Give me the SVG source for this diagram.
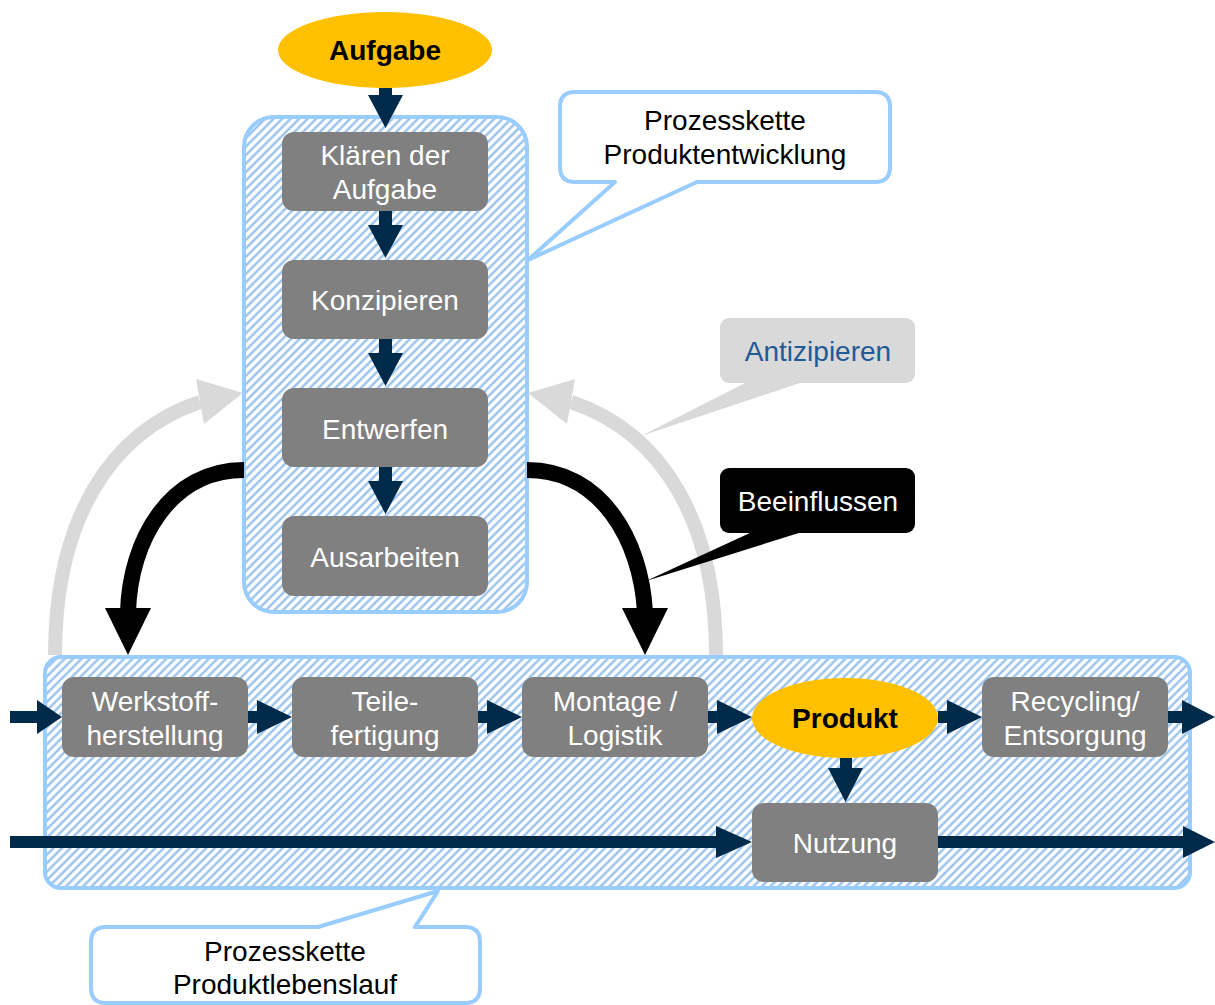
<svg xmlns="http://www.w3.org/2000/svg" width="1215" height="1005" viewBox="0 0 1215 1005">
  <style>
    text { font-family: "Liberation Sans", Arial, sans-serif; font-size: 28px; text-anchor: middle; }
    .step { fill: #808080; }
    .step-label { fill: #ffffff; }
    .goal { fill: #FFC000; }
    .goal-label { fill: #000000; font-weight: bold; font-size: 28px; }
    .chain { fill: url(#hatch); stroke: #99CCFF; stroke-width: 4; }
    .bubble { fill: #ffffff; stroke: #99CCFF; stroke-width: 4; stroke-linejoin: round; }
    .flow { fill: #002A4A; }
    .anticipate { fill: none; stroke: #D9D9D9; stroke-width: 14; }
    .influence { fill: none; stroke: #000000; stroke-width: 16; }
  </style>
  <defs>
    <pattern id="hatch" patternUnits="userSpaceOnUse" width="6" height="6" patternTransform="rotate(45)">
      <rect width="6" height="6" fill="#ffffff"/>
      <line x1="1.5" y1="0" x2="1.5" y2="6" stroke="#8FBDEA" stroke-width="2.2"/>
    </pattern>
  </defs>

  <!-- process chain containers -->
  <g id="chain-development">
    <rect class="chain" x="244" y="117" width="283" height="495" rx="30"/>
  </g>
  <g id="chain-lifecycle">
    <rect class="chain" x="45" y="657" width="1145" height="231" rx="16"/>
  </g>

  <!-- connectors -->
  <g id="connectors">
    <!-- anticipation arcs -->
    <path class="anticipate" d="M 55 655 C 55 520 110 432 200 402"/>
    <polygon fill="#D9D9D9" points="243,393 196,379 204,424"/>
    <path class="anticipate" d="M 716 655 C 716 520 661 432 571 402"/>
    <polygon fill="#D9D9D9" points="528,393 575,379 567,424"/>

    <!-- influence arcs -->
    <path class="influence" d="M 244 470 C 170 470 130 540 128 612"/>
    <polygon fill="#000000" points="128,655 105,608 151,608"/>
    <path class="influence" d="M 527 470 C 601 470 641 540 645 612"/>
    <polygon fill="#000000" points="645,655 622,608 668,608"/>

    <!-- development flow (downward) -->
    <polygon class="flow" points="379,88 392,88 392,95 403,95 385.5,128 368,95 379,95"/>
    <polygon class="flow" points="379,211 392,211 392,225 403,225 385.5,258 368,225 379,225"/>
    <polygon class="flow" points="379,339 392,339 392,353 403,353 385.5,386 368,353 379,353"/>
    <polygon class="flow" points="379,467 392,467 392,481 403,481 385.5,514 368,481 379,481"/>

    <!-- lifecycle flow (rightward) -->
    <polygon class="flow" points="10,711 37,711 37,700 62,717 37,734 37,723 10,723"/>
    <polygon class="flow" points="248,711 257,711 257,700 292,717 257,734 257,723 248,723"/>
    <polygon class="flow" points="478,711 487,711 487,700 522,717 487,734 487,723 478,723"/>
    <polygon class="flow" points="708,711 717,711 717,700 752,717 717,734 717,723 708,723"/>
    <polygon class="flow" points="938,711 947,711 947,700 982,717 947,734 947,723 938,723"/>
    <polygon class="flow" points="1168,711 1182,711 1182,700 1215,717 1182,734 1182,723 1168,723"/>

    <!-- product into use -->
    <polygon class="flow" points="840,758 852,758 852,768 863,768 845.5,802 828,768 840,768"/>

    <!-- continuous use line -->
    <polygon class="flow" points="10,836 716,836 716,826 752,842 716,858 716,848 10,848"/>
    <polygon class="flow" points="938,836 1183,836 1183,826 1215,842 1183,858 1183,848 938,848"/>
  </g>

  <!-- goal nodes -->
  <g id="node-aufgabe">
    <ellipse class="goal" cx="385" cy="50" rx="107" ry="38"/>
    <text class="goal-label" x="385" y="60">Aufgabe</text>
  </g>
  <g id="node-produkt">
    <ellipse class="goal" cx="845" cy="718" rx="93" ry="40"/>
    <text class="goal-label" x="845" y="728">Produkt</text>
  </g>

  <!-- development steps -->
  <g id="node-klaeren">
    <rect class="step" x="282" y="132" width="206" height="79" rx="12"/>
    <text class="step-label" x="385" y="165">Klären der</text>
    <text class="step-label" x="385" y="199">Aufgabe</text>
  </g>
  <g id="node-konzipieren">
    <rect class="step" x="282" y="260" width="206" height="79" rx="12"/>
    <text class="step-label" x="385" y="310">Konzipieren</text>
  </g>
  <g id="node-entwerfen">
    <rect class="step" x="282" y="388" width="206" height="79" rx="12"/>
    <text class="step-label" x="385" y="439">Entwerfen</text>
  </g>
  <g id="node-ausarbeiten">
    <rect class="step" x="282" y="516" width="206" height="80" rx="12"/>
    <text class="step-label" x="385" y="567">Ausarbeiten</text>
  </g>

  <!-- lifecycle steps -->
  <g id="node-werkstoff">
    <rect class="step" x="62" y="677" width="186" height="80" rx="12"/>
    <text class="step-label" x="155" y="711">Werkstoff-</text>
    <text class="step-label" x="155" y="745">herstellung</text>
  </g>
  <g id="node-teile">
    <rect class="step" x="292" y="677" width="186" height="80" rx="12"/>
    <text class="step-label" x="385" y="711">Teile-</text>
    <text class="step-label" x="385" y="745">fertigung</text>
  </g>
  <g id="node-montage">
    <rect class="step" x="522" y="677" width="186" height="80" rx="12"/>
    <text class="step-label" x="615" y="711">Montage /</text>
    <text class="step-label" x="615" y="745">Logistik</text>
  </g>
  <g id="node-recycling">
    <rect class="step" x="982" y="677" width="186" height="80" rx="12"/>
    <text class="step-label" x="1075" y="711">Recycling/</text>
    <text class="step-label" x="1075" y="745">Entsorgung</text>
  </g>
  <g id="node-nutzung">
    <rect class="step" x="752" y="803" width="186" height="79" rx="12"/>
    <text class="step-label" x="845" y="853">Nutzung</text>
  </g>

  <!-- callouts -->
  <g id="callout-produktentwicklung">
    <path class="bubble" d="M 575 92 H 875 Q 890 92 890 107 V 167 Q 890 182 875 182 H 697 L 528 260 L 615 182 H 575 Q 560 182 560 167 V 107 Q 560 92 575 92 Z"/>
    <text x="725" y="130">Prozesskette</text>
    <text x="725" y="164">Produktentwicklung</text>
  </g>
  <g id="callout-antizipieren">
    <rect x="720" y="318" width="195" height="65" rx="9" fill="#D9D9D9"/>
    <polygon fill="#D9D9D9" points="747,382 803,382 641,436"/>
    <text x="818" y="361" fill="#1F5A96">Antizipieren</text>
  </g>
  <g id="callout-beeinflussen">
    <rect x="720" y="468" width="195" height="65" rx="9" fill="#000000"/>
    <polygon fill="#000000" points="752,532 802,532 646,581"/>
    <text x="818" y="511" fill="#ffffff">Beeinflussen</text>
  </g>
  <g id="callout-produktlebenslauf">
    <path class="bubble" d="M 106 927 H 318 L 438 891 L 415 927 H 465 Q 480 927 480 942 V 988 Q 480 1003 465 1003 H 106 Q 91 1003 91 988 V 942 Q 91 927 106 927 Z"/>
    <text x="285" y="961">Prozesskette</text>
    <text x="285" y="994">Produktlebenslauf</text>
  </g>
</svg>
